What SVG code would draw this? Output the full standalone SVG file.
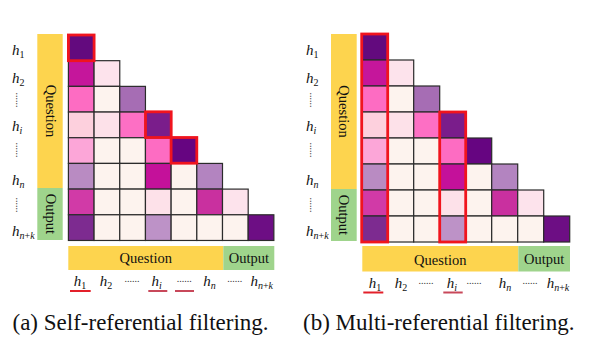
<svg xmlns="http://www.w3.org/2000/svg" xmlns:xlink="http://www.w3.org/1999/xlink" width="590" height="360" viewBox="0 0 590 360">
<style>
  .c rect { stroke: #2b2b2b; stroke-width: 1.2; }
  .pale { fill: #fdf3ee; }
  .hl { fill: none; stroke: #f0141e; stroke-width: 2.8; }
  .yel { fill: #fdd44e; }
  .grn { fill: #9fd48c; }
  .bar { font-family: "Liberation Serif", "DejaVu Serif", serif; font-size: 14.5px; fill: #111; text-anchor: middle; }
  .h { font-family: "Liberation Serif", "DejaVu Serif", serif; font-size: 15px; font-style: italic; fill: #111; }
  .hm { text-anchor: middle; }
  .sub { font-size: 10px; font-style: normal; }
  .subi { font-size: 10px; font-style: italic; }
  .dots { font-family: "Liberation Serif", serif; font-size: 10px; fill: #333; text-anchor: middle; }
  .ul1 { stroke: #e3202a; stroke-width: 2; }
  .ul2 { stroke: #c8485a; stroke-width: 2; }
  .cap { font-family: "Liberation Serif", "Times New Roman", serif; font-size: 23px; fill: #111; }
</style>
<defs>
  <g id="grid" class="c">
    <rect x="0" y="0" width="25.8" height="25.8" fill="#630a7e"/>
    <rect x="0" y="25.8" width="25.8" height="25.8" fill="#c5169b"/>
    <rect x="25.8" y="25.8" width="25.8" height="25.8" fill="#fde3ec"/>
    <rect x="0" y="51.6" width="25.8" height="25.8" fill="#fd6cc2"/>
    <rect x="25.8" y="51.6" width="25.8" height="25.8" class="pale"/>
    <rect x="51.6" y="51.6" width="25.8" height="25.8" fill="#a66db4"/>
    <rect x="0" y="77.4" width="25.8" height="25.8" fill="#fdd0dd"/>
    <rect x="25.8" y="77.4" width="25.8" height="25.8" fill="#fde1e9"/>
    <rect x="51.6" y="77.4" width="25.8" height="25.8" fill="#fd6fc4"/>
    <rect x="77.4" y="77.4" width="25.8" height="25.8" fill="#7a1d8b"/>
    <rect x="0" y="103.2" width="25.8" height="25.8" fill="#fca6d8"/>
    <rect x="25.8" y="103.2" width="25.8" height="25.8" class="pale"/>
    <rect x="51.6" y="103.2" width="25.8" height="25.8" class="pale"/>
    <rect x="77.4" y="103.2" width="25.8" height="25.8" fill="#fd6cc2"/>
    <rect x="103.2" y="103.2" width="25.8" height="25.8" fill="#660581"/>
    <rect x="0" y="129" width="25.8" height="25.8" fill="#b98bc2"/>
    <rect x="25.8" y="129" width="25.8" height="25.8" class="pale"/>
    <rect x="51.6" y="129" width="25.8" height="25.8" class="pale"/>
    <rect x="77.4" y="129" width="25.8" height="25.8" fill="#c4119a"/>
    <rect x="103.2" y="129" width="25.8" height="25.8" class="pale"/>
    <rect x="129" y="129" width="25.8" height="25.8" fill="#b384c0"/>
    <rect x="0" y="154.8" width="25.8" height="25.8" fill="#d13aa7"/>
    <rect x="25.8" y="154.8" width="25.8" height="25.8" class="pale"/>
    <rect x="51.6" y="154.8" width="25.8" height="25.8" class="pale"/>
    <rect x="77.4" y="154.8" width="25.8" height="25.8" fill="#fde1e9"/>
    <rect x="103.2" y="154.8" width="25.8" height="25.8" class="pale"/>
    <rect x="129" y="154.8" width="25.8" height="25.8" fill="#c9309f"/>
    <rect x="154.8" y="154.8" width="25.8" height="25.8" fill="#fde3ec"/>
    <rect x="0" y="180.6" width="25.8" height="25.8" fill="#7d2b90"/>
    <rect x="25.8" y="180.6" width="25.8" height="25.8" class="pale"/>
    <rect x="51.6" y="180.6" width="25.8" height="25.8" class="pale"/>
    <rect x="77.4" y="180.6" width="25.8" height="25.8" fill="#bd92c7"/>
    <rect x="103.2" y="180.6" width="25.8" height="25.8" class="pale"/>
    <rect x="129" y="180.6" width="25.8" height="25.8" class="pale"/>
    <rect x="154.8" y="180.6" width="25.8" height="25.8" class="pale"/>
    <rect x="180.6" y="180.6" width="25.8" height="25.8" fill="#6d0e84"/>
  </g>
</defs>

<!-- Panel (a) -->
<g id="panel-a">
  <g id="a-side-bar">
    <rect class="yel" x="37.3" y="34" width="25.4" height="154"/>
    <rect class="grn" x="37.3" y="188" width="25.4" height="52"/>
    <text class="bar" transform="translate(45.5,111) rotate(90)">Question</text>
    <text class="bar" transform="translate(45.5,214) rotate(90)">Output</text>
  </g>
  <g id="a-row-labels">
    <text class="h" x="12" y="55">h<tspan class="sub" dy="3">1</tspan></text>
    <text class="h" x="12" y="83">h<tspan class="sub" dy="3">2</tspan></text>
    <text class="dots" transform="translate(16,100) rotate(90)">......</text>
    <text class="h" x="12" y="131">h<tspan class="subi" dy="3">i</tspan></text>
    <text class="dots" transform="translate(16,150) rotate(90)">......</text>
    <text class="h" x="12" y="185">h<tspan class="subi" dy="3">n</tspan></text>
    <text class="dots" transform="translate(16,205) rotate(90)">......</text>
    <text class="h" x="12" y="236">h<tspan class="subi" dy="3">n</tspan><tspan class="sub">+</tspan><tspan class="subi">k</tspan></text>
  </g>
  <g id="a-matrix">
    <use xlink:href="#grid" href="#grid" transform="translate(68.4,35) scale(0.9955)"/>
    <rect class="hl" x="68.4" y="35" width="25.7" height="25.7"/>
    <rect class="hl" x="145.5" y="111.8" width="25.7" height="25.7"/>
    <rect class="hl" x="171.1" y="137.5" width="25.7" height="25.7"/>
  </g>
  <g id="a-bottom-bar">
    <rect class="yel" x="68.3" y="246" width="155" height="24"/>
    <rect class="grn" x="223.3" y="246" width="51" height="24"/>
    <text class="bar" x="145.8" y="263">Question</text>
    <text class="bar" x="248.8" y="263">Output</text>
  </g>
  <g id="a-col-labels">
    <text class="h hm" x="80" y="286">h<tspan class="sub" dy="3">1</tspan></text>
    <text class="h hm" x="106" y="286">h<tspan class="sub" dy="3">2</tspan></text>
    <text class="dots" x="132" y="282">......</text>
    <text class="h hm" x="156.7" y="286">h<tspan class="subi" dy="3">i</tspan></text>
    <text class="dots" x="184.3" y="282">......</text>
    <text class="h hm" x="209.5" y="286">h<tspan class="subi" dy="3">n</tspan></text>
    <text class="dots" x="234.7" y="282">......</text>
    <text class="h hm" x="261.7" y="286">h<tspan class="subi" dy="3">n</tspan><tspan class="sub">+</tspan><tspan class="subi">k</tspan></text>
    <line class="ul1" x1="70" y1="291" x2="90.7" y2="291"/>
    <line class="ul2" x1="148.3" y1="291" x2="167.3" y2="291"/>
    <line class="ul2" x1="175" y1="291" x2="194" y2="291"/>
  </g>
  <text id="caption-a" class="cap" x="12.5" y="330">(a) Self-referential filtering.</text>
</g>

<!-- Panel (b) -->
<g id="panel-b">
  <g id="b-side-bar">
    <rect class="yel" x="331" y="34" width="25.7" height="155"/>
    <rect class="grn" x="331" y="189" width="25.7" height="52"/>
    <text class="bar" transform="translate(339.3,111.5) rotate(90)">Question</text>
    <text class="bar" transform="translate(339.3,215) rotate(90)">Output</text>
  </g>
  <g id="b-row-labels">
    <text class="h" x="306" y="55">h<tspan class="sub" dy="3">1</tspan></text>
    <text class="h" x="306" y="83">h<tspan class="sub" dy="3">2</tspan></text>
    <text class="dots" transform="translate(310,100) rotate(90)">......</text>
    <text class="h" x="306" y="131">h<tspan class="subi" dy="3">i</tspan></text>
    <text class="dots" transform="translate(310,150) rotate(90)">......</text>
    <text class="h" x="306" y="185">h<tspan class="subi" dy="3">n</tspan></text>
    <text class="dots" transform="translate(310,205) rotate(90)">......</text>
    <text class="h" x="306" y="236">h<tspan class="subi" dy="3">n</tspan><tspan class="sub">+</tspan><tspan class="subi">k</tspan></text>
  </g>
  <g id="b-matrix">
    <use xlink:href="#grid" href="#grid" transform="translate(361.7,34) scale(1.0078)"/>
    <rect class="hl" x="361.7" y="34" width="26" height="208"/>
    <rect class="hl" x="439.7" y="112" width="26" height="130"/>
  </g>
  <g id="b-bottom-bar">
    <rect class="yel" x="362.3" y="246" width="156" height="25.5"/>
    <rect class="grn" x="518.3" y="246" width="51.7" height="25.5"/>
    <text class="bar" x="440.3" y="264.5">Question</text>
    <text class="bar" x="544.2" y="264">Output</text>
  </g>
  <g id="b-col-labels">
    <text class="h hm" x="375" y="288">h<tspan class="sub" dy="3">1</tspan></text>
    <text class="h hm" x="401" y="288">h<tspan class="sub" dy="3">2</tspan></text>
    <text class="dots" x="426" y="284">......</text>
    <text class="h hm" x="452" y="288">h<tspan class="subi" dy="3">i</tspan></text>
    <text class="dots" x="474" y="284">......</text>
    <text class="h hm" x="505" y="288">h<tspan class="subi" dy="3">n</tspan></text>
    <text class="dots" x="530" y="284">......</text>
    <text class="h hm" x="558" y="288">h<tspan class="subi" dy="3">n</tspan><tspan class="sub">+</tspan><tspan class="subi">k</tspan></text>
    <line class="ul1" x1="363.3" y1="292.5" x2="383.3" y2="292.5"/>
    <line class="ul2" x1="443.3" y1="292.5" x2="462.7" y2="292.5"/>
  </g>
  <text id="caption-b" class="cap" x="303" y="330">(b) Multi-referential filtering.</text>
</g>
</svg>
